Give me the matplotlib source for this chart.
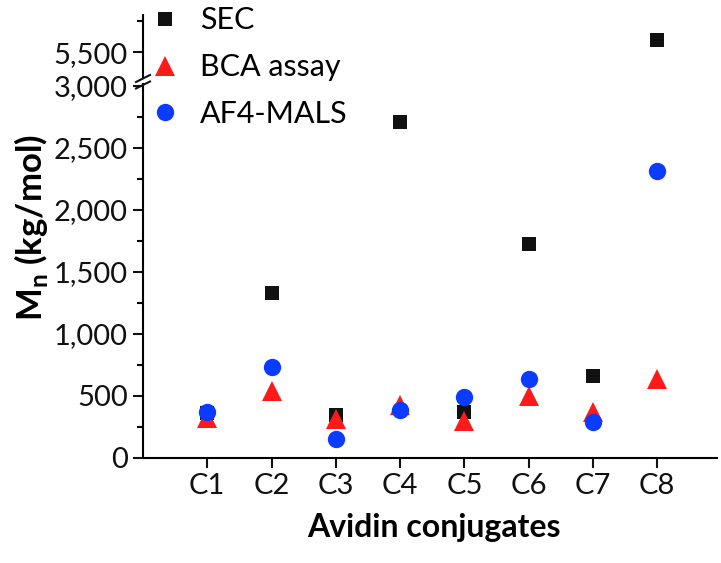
import matplotlib
matplotlib.use("Agg")
import matplotlib.pyplot as plt
from matplotlib.lines import Line2D
from matplotlib.ticker import FuncFormatter, MultipleLocator

# data
conjugates = ["C1", "C2", "C3", "C4", "C5", "C6", "C7", "C8"]
sec = [365, 1330, 347, 2710, 371, 1725, 661, 5600]
bca = [320, 540, 318, 425, 300, 500, 371, 637]
af4_mals = [371, 734, 153, 387, 492, 637, 290, 2315]

plt.rcParams["font.family"] = ["Lato", "DejaVu Sans"]
plt.rcParams["axes.linewidth"] = 1.5

W, H = 721, 563
fig = plt.figure(figsize=(W / 100, H / 100), dpi=100)

# lower (0-3000) and upper (5500) segments of the broken y axis
ax = fig.add_axes([143 / W, 1 - 458 / H, (717 - 143) / W, (458 - 84) / H])
ax_top = fig.add_axes([143 / W, 1 - 78 / H, (717 - 143) / W, (78 - 15) / H], sharex=ax)

x = list(range(1, len(conjugates) + 1))
styles = [
    (sec, "s", "#111111", 10.5, "SEC"),
    (bca, "^", "#ff1a1a", 14, "BCA assay"),
    (af4_mals, "o", "#0a3cff", 12.5, "AF4-MALS"),
]
for a in (ax, ax_top):
    for vals, mk, col, ms, lab in styles:
        a.plot(x, vals, linestyle="none", marker=mk, color=col, markersize=ms,
               markeredgewidth=0, label=lab)

comma = FuncFormatter(lambda v, p: f"{v:,.0f}")

ax.set_xlim(0, 8.93)
ax.set_ylim(0, 3016)
ax.set_xticks(x)
ax.set_xticklabels(conjugates)
ax.yaxis.set_major_locator(MultipleLocator(500))
ax.yaxis.set_minor_locator(MultipleLocator(250))
ax.yaxis.set_major_formatter(comma)
for s in ("top", "right"):
    ax.spines[s].set_visible(False)

ax_top.set_ylim(5290, 5800)
ax_top.yaxis.set_major_locator(MultipleLocator(500))
ax_top.yaxis.set_minor_locator(MultipleLocator(250))
ax_top.yaxis.set_major_formatter(comma)
for s in ("top", "right", "bottom"):
    ax_top.spines[s].set_visible(False)
ax_top.tick_params(axis="x", which="both", bottom=False, labelbottom=False)

for a in (ax, ax_top):
    a.tick_params(which="major", direction="out", length=7, width=1.5,
                  labelsize=21, pad=4, colors="#111111")
    a.tick_params(which="minor", direction="out", length=4, width=1.5)
    a.tick_params(axis="x", which="minor", bottom=False)
    a.set_facecolor("none")

# break marks on the y axis
for yb in (78.5, 85):
    fig.add_artist(Line2D([136 / W, 150 / W], [1 - (yb + 3.5) / H, 1 - (yb - 3.5) / H],
                          color="#111111", lw=1.5))

fig.text(31 / W, 1 - 228 / H, r"M$_\mathregular{n}$ (kg/mol)", rotation=90,
         ha="center", va="center", fontsize=25, fontweight="bold")
fig.text(434 / W, 1 - 527 / H, "Avidin conjugates", ha="center", va="center",
         fontsize=23, fontweight="bold")

handles = [Line2D([], [], linestyle="none", marker=mk, color=col, markersize=ms,
                  markeredgewidth=0) for _, mk, col, ms, _ in styles]
fig.legend(handles, [s[4] for s in styles], loc="upper left",
           bbox_to_anchor=(137 / W, 1 + 9 / H), frameon=False, fontsize=22,
           handlelength=0.8, handletextpad=0.75, labelspacing=0.62, borderpad=0)

fig.savefig("out.png", dpi=100)
